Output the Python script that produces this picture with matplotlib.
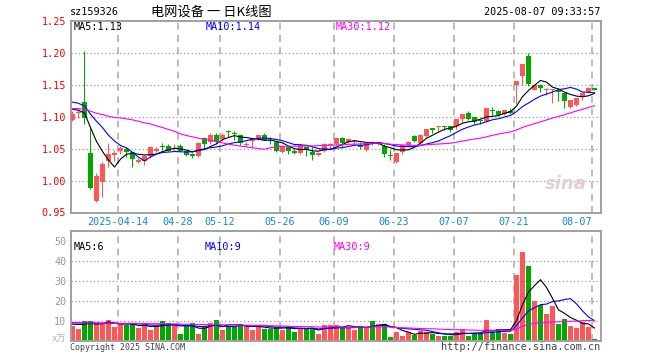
import matplotlib
matplotlib.use('Agg')
import matplotlib.pyplot as plt
import numpy as np
import pandas as pd

plt.rcParams['font.family'] = ['DejaVu Sans Mono', 'Noto Sans CJK SC']

# ---------------- data ----------------
opens = [1.095, 1.106, 1.123, 1.043, 0.968, 0.997, 1.031, 1.040, 1.047, 1.049,
         1.044, 1.029, 1.030, 1.038, 1.046, 1.054, 1.054, 1.0497, 1.054, 1.046,
         1.041, 1.038, 1.066, 1.061, 1.072, 1.065, 1.077, 1.074, 1.071, 1.0555,
         1.062, 1.066, 1.071, 1.064, 1.061, 1.0445, 1.052, 1.047, 1.0434, 1.052,
         1.045, 1.040, 1.0466, 1.055, 1.057, 1.067, 1.061, 1.062, 1.0565, 1.0486,
         1.060, 1.057, 1.054, 1.040, 1.0288, 1.0445, 1.0555, 1.0695, 1.059, 1.0695,
         1.0815, 1.084, 1.0855, 1.085, 1.085, 1.096, 1.106, 1.099, 1.0935, 1.093,
         1.110, 1.109, 1.1044, 1.109, 1.150, 1.1635, 1.1948, 1.1413, 1.150, 1.1425,
         1.1425, 1.1426, 1.137, 1.1154, 1.118, 1.1311, 1.1384, 1.1457]
highs = [1.109, 1.112, 1.203, 1.083, 1.012, 1.029, 1.059, 1.048, 1.054, 1.052,
         1.045, 1.035, 1.040, 1.054, 1.052, 1.059, 1.058, 1.057, 1.058, 1.047,
         1.043, 1.060, 1.068, 1.074, 1.074, 1.074, 1.080, 1.078, 1.072, 1.060,
         1.066, 1.071, 1.074, 1.0685, 1.062, 1.053, 1.052, 1.050, 1.0575, 1.052,
         1.052, 1.045, 1.059, 1.059, 1.067, 1.0685, 1.066, 1.064, 1.061, 1.060,
         1.062, 1.0605, 1.057, 1.048, 1.0434, 1.0575, 1.062, 1.071, 1.071, 1.0815,
         1.083, 1.086, 1.086, 1.086, 1.096, 1.104, 1.109, 1.100, 1.096, 1.113,
         1.1145, 1.111, 1.110, 1.113, 1.156, 1.183, 1.200, 1.152, 1.152, 1.1457,
         1.144, 1.144, 1.137, 1.127, 1.130, 1.139, 1.1467, 1.1457]
lows = [1.093, 1.098, 1.089, 0.987, 0.967, 0.975, 1.022, 1.031, 1.042, 1.037,
        1.021, 1.028, 1.024, 1.036, 1.045, 1.0475, 1.046, 1.047, 1.046, 1.038,
        1.036, 1.037, 1.050, 1.058, 1.058, 1.062, 1.069, 1.064, 1.055, 1.054,
        1.052, 1.064, 1.063, 1.058, 1.045, 1.043, 1.042, 1.042, 1.042, 1.038,
        1.0325, 1.039, 1.045, 1.048, 1.056, 1.053, 1.059, 1.056, 1.050, 1.047,
        1.056, 1.055, 1.0365, 1.033, 1.027, 1.041, 1.054, 1.060, 1.058, 1.069,
        1.075, 1.078, 1.079, 1.0765, 1.081, 1.090, 1.095, 1.089, 1.089, 1.092,
        1.101, 1.101, 1.103, 1.1044, 1.1196, 1.149, 1.148, 1.1413, 1.139, 1.1338,
        1.1223, 1.1248, 1.1144, 1.1138, 1.117, 1.127, 1.137, 1.1415]
closes = [1.105, 1.108, 1.098, 0.989, 1.007, 1.026, 1.041, 1.043, 1.051, 1.045,
          1.034, 1.033, 1.038, 1.053, 1.050, 1.053, 1.047, 1.0513, 1.047, 1.040,
          1.039, 1.059, 1.058, 1.071, 1.061, 1.072, 1.0755, 1.073, 1.059, 1.058,
          1.063, 1.071, 1.064, 1.0625, 1.046, 1.052, 1.046, 1.0434, 1.0555, 1.048,
          1.040, 1.0434, 1.057, 1.057, 1.0664, 1.059, 1.065, 1.0635, 1.052, 1.059,
          1.057, 1.060, 1.042, 1.039, 1.0434, 1.0555, 1.061, 1.062, 1.071, 1.0815,
          1.080, 1.085, 1.0845, 1.080, 1.096, 1.104, 1.096, 1.092, 1.093, 1.113,
          1.109, 1.102, 1.110, 1.106, 1.156, 1.183, 1.151, 1.150, 1.1443, 1.143,
          1.143, 1.138, 1.1248, 1.1259, 1.130, 1.1379, 1.1457, 1.1426]
volumes = [7.6, 6.1, 9.7, 10.0, 8.2, 8.4, 10.5, 7.1, 8.2, 7.9,
           8.2, 6.6, 7.6, 5.2, 8.1, 10.0, 9.0, 8.2, 3.2, 7.9,
           9.0, 3.2, 7.3, 9.0, 10.5, 5.2, 7.6, 7.6, 8.5, 7.1,
           5.2, 7.1, 6.1, 6.1, 7.1, 5.2, 7.6, 4.2, 6.6, 6.6,
           6.1, 3.2, 8.1, 8.1, 8.1, 6.6, 6.8, 5.2, 7.6, 6.8,
           9.7, 8.5, 8.5, 1.8, 4.4, 2.3, 4.4, 3.1, 4.8, 4.4,
           3.5, 2.3, 2.3, 2.6, 4.5, 6.1, 2.6, 3.2, 3.2, 10.5,
           4.4, 5.8, 3.7, 3.2, 32.9, 44.5, 37.3, 19.7, 18.1, 13.5,
           17.3, 8.5, 11.0, 7.6, 6.6, 9.5, 7.1, 0.8]

price_ma5_head = [1.112, 1.110, 1.106, 1.083]
price_ma10_head = [1.123, 1.121, 1.117, 1.104, 1.093, 1.083, 1.071, 1.062, 1.055]
price_ma30_head = [1.1128, 1.1128, 1.1118, 1.1087, 1.1055, 1.1034, 1.1008, 1.0987, 1.0982, 1.0967,
                   1.0951, 1.0930, 1.0904, 1.0888, 1.0857, 1.0831, 1.0800, 1.0773, 1.0732, 1.0706,
                   1.0685, 1.0664, 1.0648, 1.0633, 1.0612, 1.0590, 1.0570, 1.0555, 1.0540]
vol_ma5_head = [8.3, 8.1, 8.3, 8.6]
vol_ma10_head = [9.0, 8.9, 8.9, 8.9, 8.8, 8.7, 8.7, 8.6, 8.5]
vol_ma30_head = [8.9, 8.9, 8.9, 8.9, 8.9, 8.8, 8.8, 8.8, 8.7, 8.7,
                 8.7, 8.6, 8.6, 8.5, 8.5, 8.5, 8.4, 8.4, 8.3, 8.2,
                 8.2, 8.1, 8.1, 8.0, 8.0, 8.0, 7.9, 7.9, 7.8]

tick_index = [8, 18, 25, 35, 44, 54, 64, 74, 87]
tick_labels = ['2025-04-14', '04-28', '05-12', '05-26', '06-09', '06-23', '07-07', '07-21', '08-07']
price_ticks = [0.95, 1.00, 1.05, 1.10, 1.15, 1.20, 1.25]
vol_ticks = [10, 20, 30, 40, 50]

code = 'sz159326'
title = '电网设备 一 日K线图'
stamp = '2025-08-07 09:33:57'
price_legend = ['MA5:1.13', 'MA10:1.14', 'MA30:1.12']
vol_legend = ['MA5:6', 'MA10:9', 'MA30:9']

# ---------------- helpers ----------------
def moving_avg(values, window, head):
    s = pd.Series(values, dtype=float).rolling(window).mean().to_numpy()
    s[:window - 1] = head
    return s

RED = '#ff5656'
GREEN = '#00a800'
MA_COLORS = ['#000000', '#0000ff', '#ff00ff']
FRAME = '#a0a0a0'
GRID = '#aaaaaa'

o = np.array(opens); h = np.array(highs); l = np.array(lows); c = np.array(closes)
v = np.array(volumes)
x = np.arange(len(c))
colors = np.where(c >= o, RED, GREEN)

W, H = 660, 360
def rect(left, top, right, bottom):
    return [left / W, 1 - bottom / H, (right - left) / W, (bottom - top) / H]

fig = plt.figure(figsize=(6.6, 3.6), dpi=100)
fig.patch.set_facecolor('white')
axp = fig.add_axes(rect(70.5, 21, 600.5, 212.5))
axv = fig.add_axes(rect(70.5, 230.7, 600.5, 340.7))

grid_x = [i - 0.45 for i in tick_index]

for ax in (axp, axv):
    ax.set_xlim(-0.333, 88.0)
    for s in ax.spines.values():
        s.set_color(FRAME)
        s.set_linewidth(1.4)
    for gx in grid_x:
        ax.axvline(gx, color=GRID, lw=1.1, ls=(0, (4.5, 3.5)), zorder=0)
    ax.tick_params(length=0)

# ---------------- price panel ----------------
axp.set_ylim(0.95, 1.25)
for yv in price_ticks[1:-1]:
    axp.axhline(yv, color='#999999', lw=0.9, ls=(0, (1, 2)), zorder=0)

axp.vlines(x, l, h, colors=colors, lw=0.75, zorder=2)
body_bottom = np.minimum(o, c)
body_h = np.maximum(np.abs(c - o), 0.0016)
axp.bar(x, body_h, bottom=body_bottom, width=0.82, color=colors, lw=0, zorder=3)

pma = [moving_avg(c, 5, price_ma5_head), moving_avg(c, 10, price_ma10_head),
       moving_avg(c, 30, price_ma30_head)]
for m, col in zip(pma, MA_COLORS):
    axp.plot(x, m, color=col, lw=0.8, zorder=4)

axp.set_yticks(price_ticks)
axp.set_yticklabels(['%.2f' % t for t in price_ticks], color='#ff0000', fontsize=7.3)
axp.tick_params(axis='y', pad=3)
axp.set_xticks(grid_x)
axp.set_xticklabels(tick_labels, color='#1088d8', fontsize=7.3)
axp.tick_params(axis='x', pad=3)
lbls = axp.get_xticklabels()
lbls[-1].set_horizontalalignment('right')

# sina watermark
axp.text(0.935, 0.15, 'sina', transform=axp.transAxes, fontsize=13, color='#e2cfcf',
         style='italic', fontweight='bold', family='DejaVu Sans', ha='center', va='center', zorder=1)

# ---------------- volume panel ----------------
axv.set_ylim(0, 55)
for yv in vol_ticks[:-1]:
    axv.axhline(yv, color='#999999', lw=0.9, ls=(0, (1, 2)), zorder=0)
axv.bar(x, v, width=0.82, color=colors, lw=0, zorder=2)
vma = [moving_avg(v, 5, vol_ma5_head), moving_avg(v, 10, vol_ma10_head),
       moving_avg(v, 30, vol_ma30_head)]
for m, col in zip(vma, MA_COLORS):
    axv.plot(x, m, color=col, lw=0.8, zorder=4)
axv.set_yticks(vol_ticks)
axv.set_yticklabels([str(t) for t in vol_ticks], color='#999999', fontsize=7.3)
axv.tick_params(axis='y', pad=3)
axv.set_xticks([])

# ---------------- texts ----------------
def ftext(px, py, s, **kw):
    fig.text(px / W, 1 - py / H, s, va='center', **kw)

ftext(70, 12, code, fontsize=7.3, color='black', ha='left')
ftext(151, 12, title, fontsize=9.5, color='black', ha='left', family=['Noto Sans CJK SC', 'DejaVu Sans'])
ftext(600, 12, stamp, fontsize=7.3, color='black', ha='right')

for px, s, col in zip([74, 206, 336], price_legend, MA_COLORS):
    ftext(px, 27, s, fontsize=7.3, color=col, ha='left')
for px, s, col in zip([74, 205, 334], vol_legend, MA_COLORS):
    ftext(px, 246.5, s, fontsize=7.3, color=col, ha='left')

ftext(66, 339, 'x万', fontsize=6.5, color='#aaaaaa', ha='right', family=['DejaVu Sans Mono', 'Noto Sans CJK SC'])
ftext(70, 347, 'Copyright 2025 SINA.COM', fontsize=6.0, color='#444444', ha='left')
ftext(600, 347, 'http://finance.sina.com.cn', fontsize=7.3, color='#444444', ha='right')

fig.savefig('out.png', dpi=100, facecolor='white')
